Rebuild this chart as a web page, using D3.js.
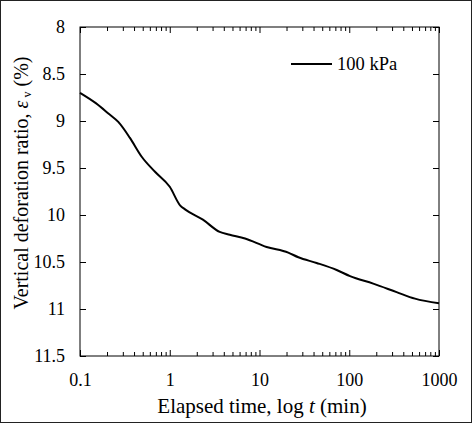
<!DOCTYPE html>
<html>
<head>
<meta charset="utf-8">
<script src="https://cdn.jsdelivr.net/npm/d3@7"></script>
<style>
  body { margin: 0; background: #fff; }
  svg { display: block; font-family: "Liberation Serif", "Times New Roman", serif; }
</style>
</head>
<body>
<div id="container"></div>
<script>
// elapsed time (min) and vertical deformation ratio (%)
const time = [0.1, 0.15, 0.207, 0.267, 0.36, 0.487, 0.685, 1.0, 1.31, 1.48, 2.34, 3.6, 4.67, 6.9, 12, 20.9, 27.1, 43.3, 72.4, 102, 185, 337, 540, 1000]
const strain = [8.70, 8.81, 8.92, 9.01, 9.18, 9.38, 9.54, 9.70, 9.90, 9.94, 10.05, 10.18, 10.21, 10.25, 10.34, 10.40, 10.45, 10.51, 10.585, 10.65, 10.73, 10.82, 10.89, 10.94]
const seriesName = "100 kPa"

const xMajor = [0.1, 1, 10, 100, 1000]
const xLabels = ["0.1", "1", "10", "100", "1000"]
const yTicks = [8, 8.5, 9, 9.5, 10, 10.5, 11, 11.5]
const yLabels = ["8", "8.5", "9", "9.5", "10", "10.5", "11", "11.5"]

const W = 472, H = 423
const margin = { top: 27, right: 33, bottom: 67, left: 80 }
const width = W - margin.left - margin.right
const height = H - margin.top - margin.bottom
const serif = '"Liberation Serif", "Times New Roman", serif'

// minor log ticks 2..9 in each decade
const xMinor = []
for (let i = 0; i < xMajor.length - 1; i++) {
    for (let k = 2; k <= 9; k++) xMinor.push(xMajor[i] * k)
}

const root = d3.select("#container").append("svg")
    .attr("width", W)
    .attr("height", H)

// outer frame of the figure
root.append("rect")
    .attr("x", 0.5).attr("y", 0.5)
    .attr("width", W - 1).attr("height", H - 1)
    .attr("fill", "none")
    .attr("stroke", "#222")

const svg = root.append("g")
    .attr("transform", "translate(" + margin.left + "," + margin.top + ")")

const x = d3.scaleLog().domain([0.1, 1000]).range([0, width])
const y = d3.scaleLinear().domain([8, 11.5]).range([0, height])

// plot frame
svg.append("rect")
    .attr("width", width).attr("height", height)
    .attr("fill", "none")
    .attr("stroke", "#000")
    .attr("stroke-width", 1)

function styleAxis(g) {
    g.attr("font-family", serif)
    g.select(".domain").remove()
    g.selectAll(".tick line").attr("stroke", "#000")
    g.selectAll("text")
        .attr("fill", "#000")
        .attr("font-size", 18)
}

// bottom axis, major + minor
svg.append("g")
    .attr("transform", "translate(0," + height + ")")
    .call(d3.axisBottom(x).tickValues(xMajor).tickSize(-6).tickPadding(17)
        .tickFormat((d, i) => xLabels[i]))
    .call(styleAxis)
svg.append("g")
    .attr("transform", "translate(0," + height + ")")
    .call(d3.axisBottom(x).tickValues(xMinor).tickSize(-4).tickFormat(""))
    .call(styleAxis)

// top axis
svg.append("g")
    .call(d3.axisTop(x).tickValues(xMajor).tickSize(-6).tickFormat(""))
    .call(styleAxis)
svg.append("g")
    .call(d3.axisTop(x).tickValues(xMinor).tickSize(-4).tickFormat(""))
    .call(styleAxis)

// left axis
svg.append("g")
    .call(d3.axisLeft(y).tickValues(yTicks).tickSize(-6).tickPadding(15)
        .tickFormat((d, i) => yLabels[i]))
    .call(styleAxis)

// right axis
svg.append("g")
    .attr("transform", "translate(" + width + ",0)")
    .call(d3.axisRight(y).tickValues(yTicks).tickSize(-6).tickFormat(""))
    .call(styleAxis)

// curve
const data = time.map((t, i) => [t, strain[i]])
svg.append("path")
    .datum(data)
    .attr("fill", "none")
    .attr("stroke", "#000")
    .attr("stroke-width", 2)
    .attr("stroke-linejoin", "round")
    .attr("d", d3.line()
        .x(d => x(d[0]))
        .y(d => y(d[1]))
        .curve(d3.curveMonotoneX))

// legend
const legend = svg.append("g")
    .attr("transform", "translate(" + (291 - margin.left) + "," + (64 - margin.top) + ")")
legend.append("line")
    .attr("x1", 0).attr("x2", 41)
    .attr("stroke", "#000").attr("stroke-width", 2)
legend.append("text")
    .attr("x", 46).attr("y", 6)
    .attr("font-family", serif)
    .attr("font-size", 18.5)
    .text(seriesName)

// x axis title
const xt = root.append("text")
    .attr("text-anchor", "middle")
    .attr("transform", "translate(262,413)")
    .attr("font-family", serif)
    .attr("font-size", 21)
xt.append("tspan").text("Elapsed time, log ")
xt.append("tspan").attr("font-style", "italic").text("t")
xt.append("tspan").text(" (min)")

// y axis title
const yt = root.append("text")
    .attr("text-anchor", "middle")
    .attr("transform", "translate(28,183)rotate(-90)")
    .attr("font-family", serif)
    .attr("font-size", 20)
yt.append("tspan").text("Vertical deforation ratio, ")
yt.append("tspan").attr("font-style", "italic").text("ε")
yt.append("tspan").attr("font-size", 12).attr("dy", 3).text(" v")
yt.append("tspan").attr("dy", -3).text(" (%)")
</script>
</body>
</html>
